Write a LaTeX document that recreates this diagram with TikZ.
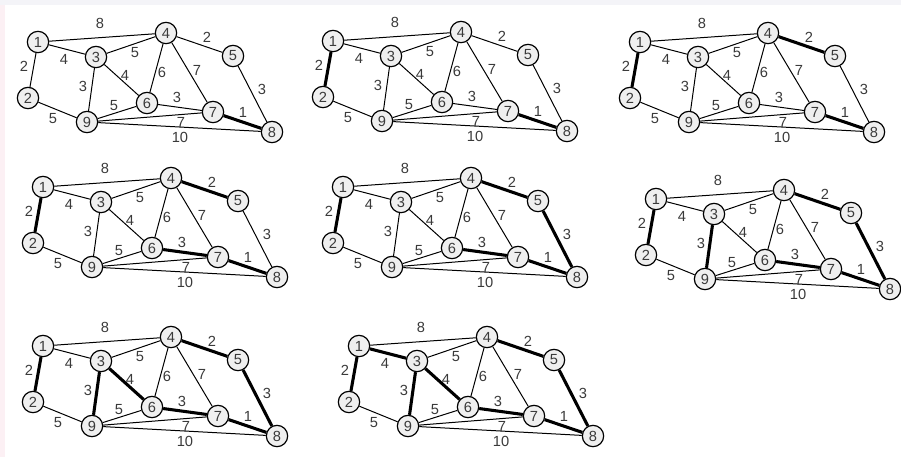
\documentclass[tikz,border=0pt]{standalone}
\usepackage{fontspec}
\setmainfont{Liberation Sans}
\definecolor{txt}{HTML}{3A3A3A}
\definecolor{nodefill}{HTML}{EFEFEF}
\definecolor{topstrip}{HTML}{F4F4F8}
\definecolor{leftstrip}{HTML}{FCF0F4}
\tikzset{
  vert/.style={circle,draw=black,line width=0.9pt,fill=nodefill,minimum size=16pt,inner sep=0pt,
    font=\fontsize{11}{11}\selectfont,text=txt},
  edge/.style={draw=black,line width=0.75pt},
  thickedge/.style={line width=2.3pt},
  wlab/.style={font=\fontsize{11}{11}\selectfont,text=txt,inner sep=0pt},
  e12/.style={},e13/.style={},e14/.style={},e34/.style={},e45/.style={},e39/.style={},
  e36/.style={},e46/.style={},e47/.style={},e58/.style={},e69/.style={},e67/.style={},
  e78/.style={},e29/.style={},e79/.style={},e89/.style={}
}
\newcommand\kpanel[4]{%
\begin{scope}[shift={(#1,#2)},#4]
\node[vert] (#3-1) at (38,42) {1};
\node[vert] (#3-2) at (28,98) {2};
\node[vert] (#3-3) at (96,57) {3};
\node[vert] (#3-4) at (166,33) {4};
\node[vert] (#3-5) at (233,56) {5};
\node[vert] (#3-6) at (147,103) {6};
\node[vert] (#3-7) at (213,112) {7};
\node[vert] (#3-8) at (272,132) {8};
\node[vert] (#3-9) at (87,122) {9};
\draw[edge,e12] (#3-1) -- (#3-2);
\draw[edge,e13] (#3-1) -- (#3-3);
\draw[edge,e14] (#3-1) -- (#3-4);
\draw[edge,e34] (#3-3) -- (#3-4);
\draw[edge,e45] (#3-4) -- (#3-5);
\draw[edge,e39] (#3-3) -- (#3-9);
\draw[edge,e36] (#3-3) -- (#3-6);
\draw[edge,e46] (#3-4) -- (#3-6);
\draw[edge,e47] (#3-4) -- (#3-7);
\draw[edge,e58] (#3-5) -- (#3-8);
\draw[edge,e69] (#3-6) -- (#3-9);
\draw[edge,e67] (#3-6) -- (#3-7);
\draw[edge,e78] (#3-7) -- (#3-8);
\draw[edge,e29] (#3-2) -- (#3-9);
\draw[edge,e79] (#3-7) -- (#3-9);
\draw[edge,e89] (#3-8) -- (#3-9);
\node[wlab] (#3-l14) at (100,23) {8};
\node[wlab] (#3-l12) at (24,66) {2};
\node[wlab] (#3-l13) at (64,59) {4};
\node[wlab] (#3-l34) at (135,53) {5};
\node[wlab] (#3-l45) at (207,37) {2};
\node[wlab] (#3-l39) at (83,86) {3};
\node[wlab] (#3-l36) at (125,75) {4};
\node[wlab] (#3-l46) at (162,72) {6};
\node[wlab] (#3-l47) at (197,70) {7};
\node[wlab] (#3-l58) at (262,89) {3};
\node[wlab] (#3-l69) at (114,106) {5};
\node[wlab] (#3-l67) at (177,97) {3};
\node[wlab] (#3-l78) at (243,112) {1};
\node[wlab] (#3-l29) at (53,119) {5};
\node[wlab] (#3-l79) at (181,122) {7};
\node[wlab] (#3-l89) at (180,137) {10};
\end{scope}}
\begin{document}
\begin{tikzpicture}[x=0.75pt,y=-0.75pt]
\useasboundingbox[fill=white] (0,0) rectangle (901,457);
\fill[topstrip] (0,0) rectangle (901,5);
\fill[leftstrip] (0,5) rectangle (5,457);
\kpanel{0}{0}{a}{e78/.style=thickedge}
\kpanel{295}{-1}{b}{e78/.style=thickedge,e12/.style=thickedge}
\kpanel{602}{0}{c}{e78/.style=thickedge,e12/.style=thickedge,e45/.style=thickedge}
\kpanel{5}{145}{d}{e78/.style=thickedge,e12/.style=thickedge,e45/.style=thickedge,e67/.style=thickedge}
\kpanel{305}{145}{e}{e78/.style=thickedge,e12/.style=thickedge,e45/.style=thickedge,e67/.style=thickedge,e58/.style=thickedge}
\kpanel{618}{157}{f}{e78/.style=thickedge,e12/.style=thickedge,e45/.style=thickedge,e67/.style=thickedge,e58/.style=thickedge,e39/.style=thickedge}
\kpanel{5}{304}{g}{e78/.style=thickedge,e12/.style=thickedge,e45/.style=thickedge,e67/.style=thickedge,e58/.style=thickedge,e39/.style=thickedge,e36/.style=thickedge}
\kpanel{321}{304}{h}{e78/.style=thickedge,e12/.style=thickedge,e45/.style=thickedge,e67/.style=thickedge,e58/.style=thickedge,e39/.style=thickedge,e36/.style=thickedge,e13/.style=thickedge}
\end{tikzpicture}
\end{document}
